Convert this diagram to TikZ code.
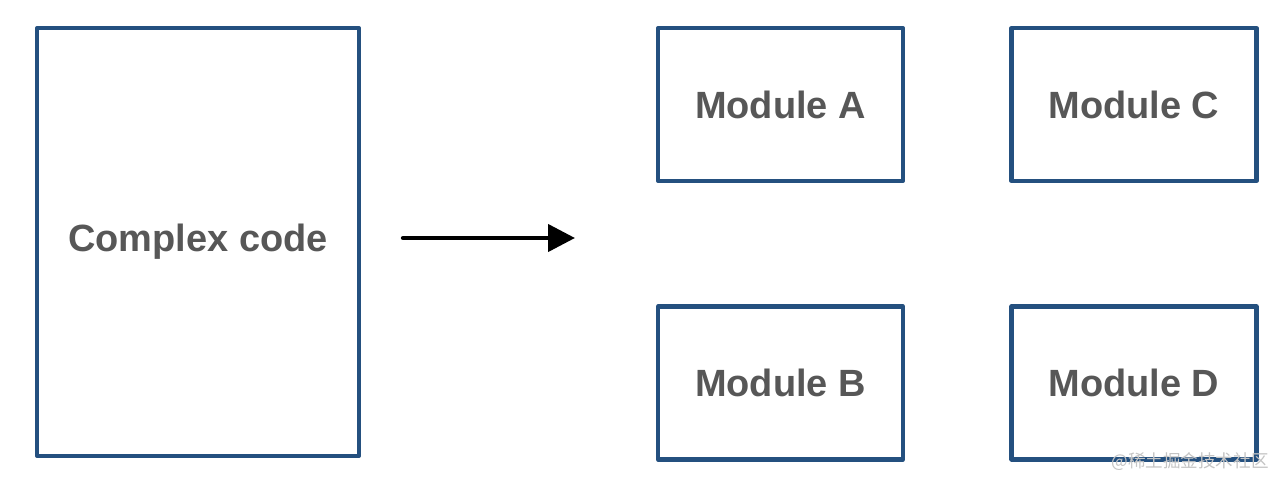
\documentclass[tikz,border=0pt]{standalone}
\usepackage{fontspec}
\setmainfont{Liberation Sans}
\newfontfamily\cjkfont{Noto Sans CJK SC}
\usetikzlibrary{arrows.meta,positioning}
\definecolor{navy}{HTML}{24507F}
\definecolor{ink}{HTML}{575757}
\definecolor{markgray}{HTML}{C4C4C4}
\tikzset{
    every picture/.style={line cap=round,line join=round},
    codebox/.style={draw=navy,fill=white,line width=2.3pt,
      minimum width=64.4mm,minimum height=85.6mm,inner sep=0pt,
      text=ink,font=\bfseries\fontsize{21.6}{26}\selectfont},
    modbox/.style={draw=navy,fill=white,line width=2.3pt,
      minimum width=49mm,minimum height=30.6mm,inner sep=0pt,
      text=ink,font=\bfseries\fontsize{21.6}{26}\selectfont},
    splitarrow/.style={-{Triangle[length=5.4mm,width=5.4mm]},draw=black,
      line width=2.5pt}
}
\begin{document}
\begin{tikzpicture}
  \useasboundingbox (0,0) rectangle (25.72,-9.76);
  \node[codebox] (complex) at (3.96,-4.84) {Complex code};
  \node[modbox] (modA) at (15.61,-2.09) {Module A};
  \node[modbox] (modC) at (22.68,-2.09) {Module C};
  \node[modbox] (modB) at (15.61,-7.66) {Module B};
  \node[modbox] (modD) at (22.68,-7.66) {Module D};
  % arrow between the two halves
  \coordinate (arrowstart) at (8.06,-4.76);
  \coordinate (arrowend) at (11.5,-4.76);
  \draw[splitarrow] (arrowstart) -- (arrowend);
  \node[text=markgray,font=\cjkfont\fontsize{10}{12}\selectfont] (mark) at (23.8,-9.24) {@稀土掘金技术社区};
\end{tikzpicture}
\end{document}
